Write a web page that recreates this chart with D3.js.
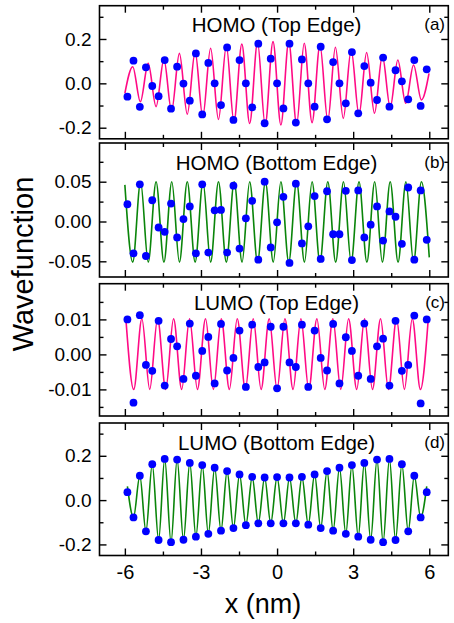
<!doctype html>
<html>
<head>
<style>
  body { margin: 0; background: #fff; }
  text { font-family: "Liberation Sans", Arial, sans-serif; fill: #000; }
</style>
<script src="https://d3js.org/d3.v7.min.js"></script>
</head>
<body>
<svg width="454" height="623"></svg>
<script>

// atom positions along the edge (nm)
var atomX = [-5.90, -5.66, -5.41, -5.17, -4.92, -4.67, -4.43, -4.18, -3.94, -3.69, -3.44, -3.20, -2.95, -2.71, -2.46, -2.21, -1.97, -1.72, -1.48, -1.23, -0.98, -0.74, -0.49, -0.25, 0.00,
             0.25, 0.49, 0.74, 0.98, 1.23, 1.48, 1.72, 1.97, 2.21, 2.46, 2.71, 2.95, 3.20, 3.44, 3.69, 3.94, 4.18, 4.43, 4.67, 4.92, 5.17, 5.41, 5.66, 5.90];

// dots (tight-binding values on atoms)
var homoTopDots = [-0.060, 0.102, -0.106, 0.072, -0.012, -0.058, 0.105, -0.114, 0.075, -0.001, -0.078, 0.135, -0.140, 0.092, 0.000, -0.098, 0.162, -0.165, 0.105, 0.000, -0.108, 0.179, -0.180, 0.111, 0.000,
                   -0.113, 0.179, -0.177, 0.108, 0.000, -0.105, 0.165, -0.162, 0.096, 0.000, -0.090, 0.141, -0.135, 0.078, 0.003, -0.075, 0.116, -0.105, 0.059, 0.009, -0.072, 0.105, -0.102, 0.063];
var homoBotDots = [0.0217, -0.0400, 0.0467, -0.0433, 0.0267, -0.0075, -0.0130, 0.0225, -0.0200, 0.0030, 0.0190, -0.0400, 0.0467, -0.0390, 0.0140, 0.0146, -0.0390, 0.0450, -0.0340, 0.0040, 0.0260, -0.0480, 0.0500, -0.0325, -0.0010,
                   0.0310, -0.0520, 0.0475, -0.0275, -0.0060, 0.0320, -0.0470, 0.0380, -0.0160, -0.0160, 0.0385, -0.0485, 0.0390, -0.0200, -0.0040, 0.0190, -0.0240, 0.0126, 0.0060, -0.0280, 0.0427, -0.0480, 0.0390, -0.0230];
var lumoTopDots = [0.0100, -0.0138, 0.0112, -0.0030, -0.0047, 0.0096, -0.0089, 0.0044, 0.0023, -0.0070, 0.0088, -0.0061, 0.0010, 0.0050, -0.0083, 0.0087, -0.0046, -0.0010, 0.0068, -0.0093, 0.0085, -0.0036, -0.0023, 0.0079, -0.0097,
                   0.0079, -0.0023, -0.0036, 0.0085, -0.0093, 0.0068, -0.0010, -0.0046, 0.0087, -0.0083, 0.0049, 0.0010, -0.0061, 0.0088, -0.0070, 0.0023, 0.0045, -0.0089, 0.0096, -0.0047, -0.0030, 0.0111, -0.0140, 0.0100];
var lumoBotDots = [0.036, -0.078, 0.110, -0.141, 0.162, -0.180, 0.186, -0.190, 0.183, -0.179, 0.168, -0.165, 0.158, -0.152, 0.146, -0.138, 0.131, -0.126, 0.116, -0.113, 0.105, -0.105, 0.102, -0.105, 0.104,
                   -0.105, 0.102, -0.105, 0.105, -0.111, 0.116, -0.126, 0.131, -0.138, 0.146, -0.152, 0.158, -0.165, 0.168, -0.179, 0.183, -0.190, 0.186, -0.180, 0.162, -0.141, 0.110, -0.078, 0.036];

// continuum curves: positions and values of their peaks and troughs
var homoTopWaveX = [-6.00, -5.69, -5.39, -5.08, -4.77, -4.46, -4.16, -3.85, -3.54, -3.23, -2.93, -2.62, -2.31, -2.00, -1.70, -1.39, -1.08, -0.77, -0.47, -0.16,
                    0.15, 0.46, 0.77, 1.07, 1.38, 1.69, 2.00, 2.30, 2.61, 2.92, 3.23, 3.53, 3.84, 4.15, 4.46, 4.76, 5.07, 5.38, 5.69, 5.99];
var homoTopWaveY = [-0.045, 0.075, -0.083, 0.090, -0.105, 0.108, -0.125, 0.135, -0.139, 0.142, -0.150, 0.158, -0.163, 0.168, -0.173, 0.177, -0.181, 0.185, -0.187, 0.188,
                    -0.188, 0.187, -0.185, 0.181, -0.177, 0.173, -0.168, 0.163, -0.158, 0.150, -0.142, 0.139, -0.135, 0.125, -0.108, 0.105, -0.090, 0.083, -0.075, 0.045];
var homoBotWaveX = [-6.00, -5.69, -5.38, -5.08, -4.77, -4.46, -4.15, -3.85, -3.54, -3.23, -2.92, -2.62, -2.31, -2.00, -1.69, -1.38, -1.08, -0.77, -0.46, -0.15,
                    0.15, 0.46, 0.77, 1.08, 1.38, 1.69, 2.00, 2.31, 2.62, 2.92, 3.23, 3.54, 3.85, 4.15, 4.46, 4.77, 5.08, 5.38, 5.69, 6.00];
var homoBotWaveY = [0.046, -0.051, 0.050, -0.051, 0.050, -0.051, 0.050, -0.051, 0.050, -0.051, 0.050, -0.051, 0.050, -0.051, 0.050, -0.051, 0.050, -0.051, 0.050, -0.051,
                    0.050, -0.051, 0.050, -0.051, 0.050, -0.051, 0.050, -0.051, 0.050, -0.051, 0.050, -0.051, 0.050, -0.051, 0.050, -0.051, 0.050, -0.051, 0.050, -0.045];
var lumoTopWaveX = [-5.96, -5.65, -5.33, -5.02, -4.71, -4.39, -4.08, -3.76, -3.45, -3.14, -2.82, -2.51, -2.20, -1.88, -1.57, -1.25, -0.94, -0.63, -0.31, 0.00,
                    0.31, 0.63, 0.94, 1.25, 1.57, 1.88, 2.20, 2.51, 2.82, 3.14, 3.45, 3.76, 4.08, 4.39, 4.71, 5.02, 5.33, 5.65, 5.96];
var lumoTopWaveY = [0.0102, -0.0100, 0.0102, -0.0100, 0.0102, -0.0100, 0.0102, -0.0100, 0.0102, -0.0100, 0.0102, -0.0100, 0.0102, -0.0100, 0.0102, -0.0100, 0.0102, -0.0100, 0.0102, -0.0100,
                    0.0102, -0.0100, 0.0102, -0.0100, 0.0102, -0.0100, 0.0102, -0.0100, 0.0102, -0.0100, 0.0102, -0.0100, 0.0102, -0.0100, 0.0102, -0.0100, 0.0102, -0.0100, 0.0102];
var lumoBotWaveY = [0.062, -0.078, 0.110, -0.141, 0.162, -0.180, 0.186, -0.190, 0.183, -0.179, 0.168, -0.165, 0.158, -0.152, 0.146, -0.138, 0.131, -0.126, 0.116, -0.113, 0.105, -0.105, 0.102, -0.105, 0.104,
                    -0.105, 0.102, -0.105, 0.105, -0.111, 0.116, -0.126, 0.131, -0.138, 0.146, -0.152, 0.158, -0.165, 0.168, -0.179, 0.183, -0.190, 0.186, -0.180, 0.162, -0.141, 0.110, -0.078, 0.062];

var titles = ["HOMO (Top Edge)", "HOMO (Bottom Edge)", "LUMO (Top Edge)", "LUMO (Bottom Edge)"];
var letters = ["(a)", "(b)", "(c)", "(d)"];
var xTicks = [-6, -3, 0, 3, 6];
var xTickLabels = ["-6", "-3", "0", "3", "6"];
var xMinor = [-4.5, -1.5, 1.5, 4.5];
var yTicks = [[-0.2, 0, 0.2], [-0.05, 0, 0.05], [-0.01, 0, 0.01], [-0.2, 0, 0.2]];
var yTickLabels = [["-0.2", "0.0", "0.2"], ["-0.05", "0.00", "0.05"], ["-0.01", "0.00", "0.01"], ["-0.2", "0.0", "0.2"]];
var yMinor = [[-0.1, 0.1, 0.3], [-0.025, 0.025, 0.075], [-0.015, -0.005, 0.005, 0.015], [-0.1, 0.1, 0.3]];

var svg = d3.select("svg");
var left = 99.5, right = 448.3;
var x = d3.scaleLinear().domain([-7, 6.75]).range([left, right]);

var panels = [
    {top: 5.7, bottom: 138.8, dom: [-0.25, 0.35], color: "#ff0a85", wx: homoTopWaveX, wy: homoTopWaveY, dots: homoTopDots},
    {top: 143, bottom: 277, dom: [-0.0697, 0.0986], color: "#0a850a", wx: homoBotWaveX, wy: homoBotWaveY, dots: homoBotDots},
    {top: 283.7, bottom: 416, dom: [-0.0176, 0.0202], color: "#ff0a85", wx: lumoTopWaveX, wy: lumoTopWaveY, dots: lumoTopDots},
    {top: 423, bottom: 555.5, dom: [-0.25, 0.348], color: "#0a850a", wx: atomX, wy: lumoBotWaveY, dots: lumoBotDots}
];

function styleAxis(g, size) {
    g.select(".domain").remove();
    g.selectAll("line").attr("stroke", "#000").attr("stroke-width", 1.4);
    g.selectAll("text").attr("font-family", "'Liberation Sans', Arial, sans-serif").attr("font-size", size).attr("fill", "#000");
}

panels.forEach(function(p, i) {
    var y = d3.scaleLinear().domain(p.dom).range([p.bottom, p.top]);
    var g = svg.append("g");

    // curve
    var pts = p.wx.map(function(v, k) { return [v, p.wy[k]]; });
    g.append("path")
     .datum(pts)
     .attr("fill", "none")
     .attr("stroke", p.color)
     .attr("stroke-width", 1.6)
     .attr("d", d3.line().x(function(d){ return x(d[0]); }).y(function(d){ return y(d[1]); }).curve(d3.curveMonotoneX));

    // dots
    g.selectAll(".dot")
     .data(p.dots)
     .enter().append("circle")
     .attr("cx", function(d, k){ return x(atomX[k]); })
     .attr("cy", function(d){ return y(d); })
     .attr("r", 3.9)
     .attr("fill", "#0000ff");

    // ticks
    g.append("g").attr("transform", "translate(" + left + ",0)")
     .call(d3.axisLeft(y).tickValues(yTicks[i]).tickSize(-7).tickSizeOuter(0).tickPadding(8)
           .tickFormat(function(d, k){ return yTickLabels[i][k]; }))
     .call(styleAxis, 19);
    g.append("g").attr("transform", "translate(" + left + ",0)")
     .call(d3.axisLeft(y).tickValues(yMinor[i]).tickSize(-4).tickSizeOuter(0).tickFormat(""))
     .call(styleAxis, 19);
    g.append("g").attr("transform", "translate(" + right + ",0)")
     .call(d3.axisRight(y).tickValues(yTicks[i]).tickSize(-7).tickSizeOuter(0).tickFormat(""))
     .call(styleAxis, 19);
    g.append("g").attr("transform", "translate(" + right + ",0)")
     .call(d3.axisRight(y).tickValues(yMinor[i]).tickSize(-4).tickSizeOuter(0).tickFormat(""))
     .call(styleAxis, 19);
    g.append("g").attr("transform", "translate(0," + p.top + ")")
     .call(d3.axisTop(x).tickValues(xTicks).tickSize(-7).tickSizeOuter(0).tickFormat(""))
     .call(styleAxis, 20);
    g.append("g").attr("transform", "translate(0," + p.top + ")")
     .call(d3.axisTop(x).tickValues(xMinor).tickSize(-4).tickSizeOuter(0).tickFormat(""))
     .call(styleAxis, 20);
    g.append("g").attr("transform", "translate(0," + p.bottom + ")")
     .call(d3.axisBottom(x).tickValues(xTicks).tickSize(-7).tickSizeOuter(0).tickPadding(9.5)
           .tickFormat(function(d, k){ return i == 3 ? xTickLabels[k] : ""; }))
     .call(styleAxis, 20);
    g.append("g").attr("transform", "translate(0," + p.bottom + ")")
     .call(d3.axisBottom(x).tickValues(xMinor).tickSize(-4).tickSizeOuter(0).tickFormat(""))
     .call(styleAxis, 20);

    // frame
    g.append("rect")
     .attr("x", left).attr("y", p.top)
     .attr("width", right - left).attr("height", p.bottom - p.top)
     .attr("fill", "none").attr("stroke", "#000").attr("stroke-width", 1.6);

    g.append("text")
     .attr("x", 276.5).attr("y", p.top + 26.5)
     .attr("text-anchor", "middle").attr("font-size", 20.5)
     .text(titles[i]);

    g.append("text")
     .attr("x", 445).attr("y", p.top + 24.5)
     .attr("text-anchor", "end").attr("font-size", 17)
     .text(letters[i]);
});

svg.append("text")
   .attr("x", 263).attr("y", 613)
   .attr("text-anchor", "middle").attr("font-size", 27)
   .text("x (nm)");

svg.append("text")
   .attr("transform", "translate(33,264) rotate(-90)")
   .attr("text-anchor", "middle").attr("font-size", 29)
   .text("Wavefunction");

</script>
</body>
</html>
